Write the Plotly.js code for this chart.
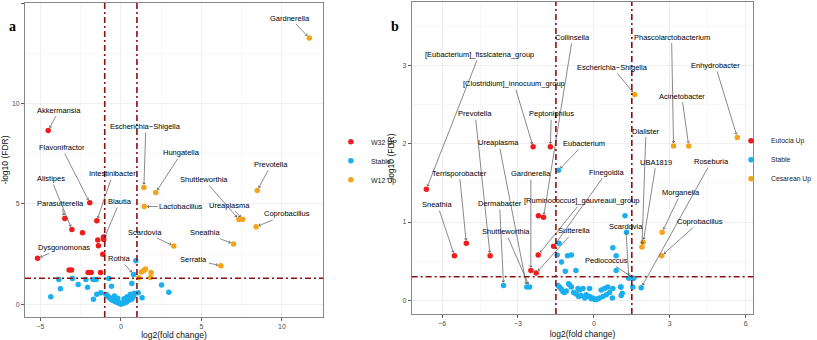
<!DOCTYPE html>
<html>
<head>
<meta charset="utf-8">
<script src="https://cdn.plot.ly/plotly-3.0.1.min.js"></script>
<style>
  html, body { margin: 0; padding: 0; background: #fff; }
  #chart { width: 817px; height: 340px; }
</style>
</head>
<body>
<div id="chart"></div>
<script>
// ---- panel a : W32 vs W12 ----
var aUpX = [-4.51, -1.93, -3.48, -3.04, -2.38, -1.49, -1.43, -1.08, -1.06, -1.39, -1.12, -5.17, -3.21, -3.06, -2.03, -1.84, -1.26];
var aUpY = [8.66, 5.06, 4.28, 3.73, 3.56, 4.16, 3.20, 3.35, 3.23, 2.92, 2.49, 2.29, 1.71, 1.71, 1.59, 1.59, 1.59];

var aStableX = [0.93, 0.79, -0.75, -3.85, -3.00, -2.17, -1.72, -1.53, -3.75, -4.35, -2.65, -2.07, -0.58, 0.68, 2.53, 2.98, -1.70, -1.49, -1.24, -0.93, 1.08, 1.32,
  -0.85, -0.78, -0.70, -0.62, -0.55, -0.50, -0.45, -0.40, -0.35, -0.30, -0.25, -0.20, -0.15, -0.10, -0.05, 0.00, 0.05, 0.10, 0.15,
  0.20, 0.25, 0.30, 0.35, 0.40, 0.45, 0.50, 0.55, 0.60, 0.65, 0.70, 0.75, 0.80, 0.85, -0.40, -0.20, 0.20, 0.40, 0.60];
var aStableY = [2.17, 1.49, 1.29, 1.24, 1.29, 1.24, 1.24, 1.24, 0.78, 0.38, 0.99, 0.85, 0.90, 1.04, 0.96, 0.60, 0.25, 0.50, 0.58, 0.50, 0.58, 0.33,
  0.45, 0.38, 0.32, 0.28, 0.22, 0.30, 0.18, 0.24, 0.14, 0.19, 0.10, 0.13, 0.07, 0.09, 0.04, 0.02, 0.03, 0.06, 0.05,
  0.10, 0.08, 0.15, 0.12, 0.18, 0.20, 0.25, 0.22, 0.30, 0.35, 0.28, 0.45, 0.40, 0.55, 0.42, 0.30, 0.28, 0.38, 0.50];

var aW12X = [11.70, 1.43, 2.17, 1.45, 8.47, 7.33, 7.56, 8.40, 7.00, 6.21, 3.29, 1.28, 1.43, 1.53, 1.88, 1.84, 1.10];
var aW12Y = [13.26, 5.82, 5.57, 4.87, 5.67, 4.23, 4.24, 3.86, 3.01, 1.92, 2.90, 1.61, 1.69, 1.76, 1.59, 1.34, 1.32];

// ---- panel b : Eutocia vs Cesarean ----
var bEutX = [-6.62, -5.51, -5.04, -4.10, -2.19, -1.99, -2.20, -2.49, -2.28, -1.59, -2.40, -1.72];
var bEutY = [1.42, 0.57, 0.73, 0.57, 1.08, 1.06, 0.58, 0.38, 0.35, 0.69, 1.96, 1.96];

var bStableX = [-1.40, -1.38, -3.57, -2.65, -2.54, -1.45, -1.28, -1.04, -0.89, -1.13, -0.71, 0.75, 0.88, 0.88, 1.23, 1.29, 1.38, 1.58, 1.54, 1.87, 1.06, 1.08, 0.75,
  -1.42, -1.36, -1.29, -1.22, -1.16, -1.09, -0.96, -0.89, -0.80, -0.70, -0.63, -0.57, -0.50, -0.43, -0.36, -0.30, -0.24, -0.17,
  -0.10, -0.04, 0.03, 0.09, 0.16, 0.22, 0.29, 0.36, 0.42, 0.49, 0.55, 0.62, 0.73, 1.07, 1.12, -0.17, -0.60, -1.00];
var bStableY = [1.66, 0.73, 0.19, 0.17, 0.17, 0.58, 0.49, 0.57, 0.58, 0.37, 0.38, 0.67, 0.57, 0.38, 1.08, 0.87, 0.28, 0.28, 0.17, 0.16, 0.17, 0.06, 0.15,
  0.19, 0.17, 0.14, 0.11, 0.10, 0.12, 0.20, 0.17, 0.10, 0.08, 0.15, 0.13, 0.06, 0.15, 0.03, 0.07, 0.05, 0.05,
  0.02, 0.03, 0.01, 0.01, 0.02, 0.03, 0.13, 0.05, 0.15, 0.07, 0.17, 0.10, 0.03, 0.17, 0.09, 0.15, 0.05, 0.21];

var bCesX = [1.61, 3.15, 3.75, 5.67, 1.95, 1.90, 2.70, 2.68];
var bCesY = [2.63, 1.97, 1.97, 2.08, 0.74, 0.68, 0.87, 0.57];

// cut-offs
var fcCutA = 1, fdrCutA = -Math.log10(0.05);
var fcCutB = 1.5, fdrCutB = -Math.log10(0.5);

// labelled genera: index into the series, text offset in px
var aLabels = [
  {s: "up", i: 0, name: "Akkermansia", dx: 11, dy: -20},
  {s: "up", i: 1, name: "Flavonifractor", dx: -28, dy: -55},
  {s: "up", i: 2, name: "Parasutterella", dx: -4, dy: -15},
  {s: "up", i: 3, name: "Alistipes", dx: -21, dy: -51},
  {s: "up", i: 5, name: "Intestinibacter", dx: 16, dy: -47},
  {s: "up", i: 8, name: "Blautia", dx: 16, dy: -38},
  {s: "up", i: 11, name: "Dysgonomonas", dx: 26, dy: -11},
  {s: "st", i: 1, name: "Rothia", dx: -14, dy: -16},
  {s: "dn", i: 0, name: "Gardnerella", dx: -19, dy: -20},
  {s: "dn", i: 1, name: "Escherichia\u2212Shigella", dx: 2, dy: -61},
  {s: "dn", i: 2, name: "Hungatella", dx: 26, dy: -40},
  {s: "dn", i: 3, name: "Lactobacillus", dx: 37, dy: 0},
  {s: "dn", i: 4, name: "Prevotella", dx: 14, dy: -26},
  {s: "dn", i: 5, name: "Shuttleworthia", dx: -35, dy: -40},
  {s: "dn", i: 6, name: "Ureaplasma", dx: -13, dy: -14},
  {s: "dn", i: 7, name: "Coprobacillus", dx: 31, dy: -13},
  {s: "dn", i: 8, name: "Sneathia", dx: -29, dy: -11},
  {s: "dn", i: 9, name: "Serratia", dx: -27, dy: -6},
  {s: "dn", i: 10, name: "Scardovia", dx: -29, dy: -14}
];

var bLabels = [
  {s: "up", i: 0, name: "[Eubacterium]_fissicatena_group", dx: 53, dy: -135},
  {s: "up", i: 1, name: "Sneathia", dx: -17, dy: -51},
  {s: "up", i: 2, name: "Terrisporobacter", dx: -7, dy: -70},
  {s: "up", i: 3, name: "Prevotella", dx: -15, dy: -142},
  {s: "up", i: 5, name: "Collinsella", dx: 29, dy: -180},
  {s: "up", i: 6, name: "[Ruminococcus]_gauvreauii_group", dx: 44, dy: -54},
  {s: "up", i: 7, name: "Gardnerella", dx: 0, dy: -97},
  {s: "up", i: 8, name: "Sutterella", dx: 38, dy: -42},
  {s: "up", i: 9, name: "Finegoldia", dx: 53, dy: -74},
  {s: "up", i: 10, name: "[Clostridium]_innocuum_group", dx: -19, dy: -63},
  {s: "up", i: 11, name: "Peptoniphilus", dx: 1, dy: -33},
  {s: "st", i: 0, name: "Eubacterium", dx: 26, dy: -27},
  {s: "st", i: 2, name: "Dermabacter", dx: -4, dy: -82},
  {s: "st", i: 3, name: "Ureaplasma", dx: -28, dy: -144},
  {s: "st", i: 4, name: "Shuttleworthia", dx: -24, dy: -55},
  {s: "st", i: 16, name: "Scardovia", dx: -3, dy: -52},
  {s: "st", i: 17, name: "Pediococcus", dx: -27, dy: -18},
  {s: "st", i: 19, name: "Roseburia", dx: 70, dy: -126},
  {s: "dn", i: 0, name: "Escherichia\u2212Shigella", dx: -22, dy: -27},
  {s: "dn", i: 1, name: "Phascolarctobacterium", dx: -2, dy: -109},
  {s: "dn", i: 2, name: "Acinetobacter", dx: -7, dy: -50},
  {s: "dn", i: 3, name: "Enhydrobacter", dx: -22, dy: -72},
  {s: "dn", i: 4, name: "UBA1819", dx: 13, dy: -80},
  {s: "dn", i: 5, name: "Dialister", dx: 4, dy: -116},
  {s: "dn", i: 6, name: "Morganella", dx: 19, dy: -40},
  {s: "dn", i: 7, name: "Coprobacillus", dx: 38, dy: -34}
];

var RED = "#EE1C1C", BLUE = "#1AAFEF", ORANGE = "#F5A31A";
var FONT = "Liberation Sans, Arial, sans-serif";

function pts(x, y, name, color, xa, ya, lg) {
  return {
    x: x, y: y, name: name, type: "scatter", mode: "markers",
    xaxis: xa, yaxis: ya, legend: lg,
    marker: {color: color, size: 5.5, line: {width: 0}},
    hoverinfo: "skip"
  };
}

var traces = [
  pts(aUpX, aUpY, "W32 UP", RED, "x", "y", "legend"),
  pts(aStableX, aStableY, "Stable", BLUE, "x", "y", "legend"),
  pts(aW12X, aW12Y, "W12 Up", ORANGE, "x", "y", "legend"),
  pts(bEutX, bEutY, "Eutocia Up", RED, "x2", "y2", "legend2"),
  pts(bStableX, bStableY, "Stable", BLUE, "x2", "y2", "legend2"),
  pts(bCesX, bCesY, "Cesarean Up", ORANGE, "x2", "y2", "legend2")
];

function labelAnns(list, series, xa, ya) {
  return list.map(function (l) {
    var s = series[l.s];
    return {
      x: s[0][l.i], y: s[1][l.i], xref: xa, yref: ya,
      text: l.name, ax: l.dx, ay: l.dy,
      showarrow: true, arrowhead: 4, arrowsize: 0.9, arrowwidth: 0.6,
      arrowcolor: "#3a3a3a", standoff: 3,
      font: {family: FONT, size: 7.5, color: "#000"}
    };
  });
}

var annotations = []
  .concat(labelAnns(aLabels, {up: [aUpX, aUpY], st: [aStableX, aStableY], dn: [aW12X, aW12Y]}, "x", "y"))
  .concat(labelAnns(bLabels, {up: [bEutX, bEutY], st: [bStableX, bStableY], dn: [bCesX, bCesY]}, "x2", "y2"));

// panel letters
annotations.push({xref: "paper", yref: "paper", x: 0.009, y: 0.951, text: "<b>a</b>", showarrow: false,
  font: {family: "Liberation Serif, Times New Roman, serif", size: 14, color: "#000"}});
annotations.push({xref: "paper", yref: "paper", x: 0.4835, y: 0.951, text: "<b>b</b>", showarrow: false,
  font: {family: "Liberation Serif, Times New Roman, serif", size: 14, color: "#000"}});

function axis(domain, range, dtick, anchor, title, standoff) {
  return {
    domain: domain, range: range, anchor: anchor,
    tick0: 0, dtick: dtick, ticks: "outside", ticklen: 3, tickwidth: 0.8, tickcolor: "#333",
    tickfont: {family: FONT, size: 7, color: "#4d4d4d"},
    showgrid: true, gridcolor: "#ebebeb", gridwidth: 0.8,
    minor: {showgrid: true, gridcolor: "#f3f3f3", gridwidth: 0.6, dtick: dtick / 2, tick0: 0},
    zeroline: false, showline: true, mirror: true, linecolor: "#7a7a7a", linewidth: 0.9,
    title: {text: title, font: {family: FONT, size: 8.5, color: "#111"}, standoff: standoff},
    automargin: false
  };
}

function vline(xa, ya, x) {
  return {type: "line", xref: xa, yref: ya + " domain", x0: x, x1: x, y0: 0, y1: 1,
    line: {color: "#8B1010", width: 1.6, dash: "6px,3px,2px,3px"}};
}
function hline(xa, ya, y) {
  return {type: "line", xref: xa + " domain", yref: ya, x0: 0, x1: 1, y0: y, y1: y,
    line: {color: "#8B1010", width: 1.4, dash: "6px,3px,2px,3px"}};
}

var layout = {
  width: 817, height: 340,
  margin: {l: 0, r: 0, t: 0, b: 0},
  paper_bgcolor: "#fff", plot_bgcolor: "#fff",
  font: {family: FONT},
  xaxis: axis([0.0306, 0.3953], [-5.95, 12.55], 5, "y", "log2(fold change)", 4),
  yaxis: axis([0.0676, 0.991], [-0.63, 15.0], 5, "x", "-log10 (FDR)", 3),
  xaxis2: axis([0.5039, 0.9220], [-7.2, 6.3], 3, "y2", "log2(fold change)", 4),
  yaxis2: axis([0.0765, 0.994], [-0.175, 3.81], 1, "x2", "-log10 (FDR)", 6),
  shapes: [
    vline("x", "y", -fcCutA), vline("x", "y", fcCutA), hline("x", "y", fdrCutA),
    vline("x2", "y2", -fcCutB), vline("x2", "y2", fcCutB), hline("x2", "y2", fdrCutB)
  ],
  annotations: annotations,
  legend: {x: 0.405, y: 0.527, xanchor: "left", yanchor: "middle", bgcolor: "rgba(0,0,0,0)",
    font: {family: FONT, size: 7, color: "#222"}},
  legend2: {x: 1, y: 0.53, xanchor: "right", yanchor: "middle", bgcolor: "rgba(0,0,0,0)",
    font: {family: FONT, size: 6.8, color: "#222"}},
  showlegend: true
};

Plotly.newPlot("chart", traces, layout, {staticPlot: true, displayModeBar: false});
</script>
</body>
</html>
